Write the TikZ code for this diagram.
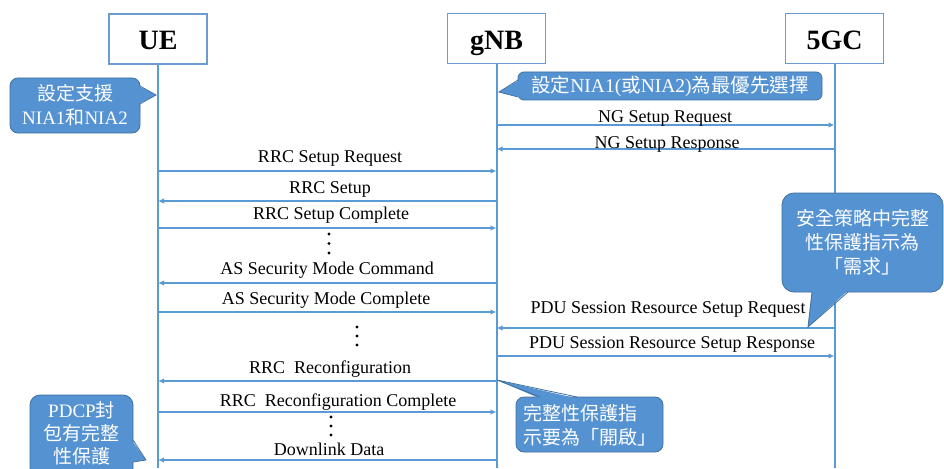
\documentclass[tikz,border=0pt]{standalone}
\usepackage{fontspec}
\setmainfont{Liberation Serif}
\newfontfamily\cjk{Noto Sans CJK TC}
\usetikzlibrary{arrows.meta}
\definecolor{lineblue}{RGB}{91,155,213}
\definecolor{boxblue}{RGB}{110,155,205}
\definecolor{callfill}{RGB}{84,146,210}
\definecolor{calledge}{RGB}{65,113,156}
\begin{document}
\begin{tikzpicture}[x=1pt,y=-1pt,
  hdr/.style={draw=boxblue,line width=1.3pt,fill=white,minimum width=98pt,
    minimum height=50pt,inner sep=0pt,text height=26pt,text depth=4pt,
    font=\fontsize{28}{30}\selectfont\bfseries},
  life/.style={lineblue,line width=2pt},
  msg/.style={lineblue,line width=2pt,-{Latex[length=6pt,width=5.5pt]}},
  lbl/.style={font=\fontsize{18}{20}\selectfont,inner sep=0pt,anchor=base},
  callout/.style={fill=callfill,draw=calledge,line width=0.8pt,rounded corners=8pt,
    inner sep=0pt,text=white,align=center,font=\fontsize{19}{24}\selectfont},
  ptrfill/.style={fill=callfill},
  ptredge/.style={draw=calledge,line width=0.8pt},
  vdot/.style={circle,fill=black,inner sep=0pt,minimum size=3.4pt}
]
\useasboundingbox (0,0) rectangle (944,468);
\fill[white] (0,0) rectangle (944,468);

% participants
\node[hdr] (ue)  at (158,39)   {UE};
\node[hdr] (gnb) at (496.5,38.5) {gNB};
\node[hdr] (cn)  at (834.5,38.5) {5GC};

% lifelines
\draw[life] (ue.south)  -- (ue.south  |- 0,468);
\draw[life] (gnb.south) -- (gnb.south |- 0,468);
\draw[life] (cn.south)  -- (cn.south  |- 0,468);

% message end points on the lifelines
\foreach \n/\y in {1/125,2/149,3/171,4/201,5/228,6/283,7/312,8/328,9/356,10/381,11/412,12/460}{
  \path (ue.south |- 0,\y) coordinate (ue\n)
        (gnb.south |- 0,\y) coordinate (gnb\n)
        (cn.south |- 0,\y) coordinate (cn\n);
}

% messages
\draw[msg] (gnb1) -- (cn1);
\node[lbl] (t1) at (665,122) {NG Setup Request};
\draw[msg] (cn2) -- (gnb2);
\node[lbl] (t2) at (667,148) {NG Setup Response};
\draw[msg] (ue3) -- (gnb3);
\node[lbl] (t3) at (330,162) {RRC Setup Request};
\draw[msg] (gnb4) -- (ue4);
\node[lbl] (t4) at (330,193) {RRC Setup};
\draw[msg] (ue5) -- (gnb5);
\node[lbl] (t5) at (331,219) {RRC Setup Complete};
\draw[msg] (gnb6) -- (ue6);
\node[lbl] (t6) at (327,274) {AS Security Mode Command};
\draw[msg] (ue7) -- (gnb7);
\node[lbl] (t7) at (326,304) {AS Security Mode Complete};
\draw[msg] (cn8) -- (gnb8);
\node[lbl] (t8) at (668,313) {PDU Session Resource Setup Request};
\draw[msg] (gnb9) -- (cn9);
\node[lbl] (t9) at (672,348) {PDU Session Resource Setup Response};
\draw[msg] (gnb10) -- (ue10);
\node[lbl] (t10) at (330,373) {RRC\ \ Reconfiguration};
\draw[msg] (ue11) -- (gnb11);
\node[lbl] (t11) at (338,406) {RRC\ \ Reconfiguration Complete};
\draw[msg] (gnb12) -- (ue12);
\node[lbl] (t12) at (329,455) {Downlink Data};

% vertical ellipses
\foreach \x/\y/\k in {329/234/a,329/243.5/b,329/253/c,357/327/d,357/336/e,357/345/f,331/417/g,331/426/h,331/435/i}
  \node[vdot] (dot\k) at (\x,\y) {};

% callout: UE supports NIA1 and NIA2
\node[callout,minimum width=130pt,minimum height=55pt] (c1) at (75,105.5)
  {{\cjk 設定支援}\\NIA1{\cjk 和}NIA2};
\coordinate (p1) at (156,95);
\fill[ptrfill] (138.5,86) -- (p1) -- (138.5,104) -- cycle;
\draw[ptredge] (140,86) -- (p1) -- (140,104);

% callout: gNB priority
\node[callout,rounded corners=6pt,minimum width=304pt,minimum height=28pt,
  font=\fontsize{19.5}{24}\selectfont] (c2) at (670,86)
  {{\cjk 設定}NIA1({\cjk 或}NIA2){\cjk 為最優先選擇}};
\coordinate (p2) at (499,92);
\fill[ptrfill] (519.5,80) -- (p2) -- (519.5,97) -- cycle;
\draw[ptredge] (518,80) -- (p2) -- (518,97);

% callout: security policy from 5GC
\node[callout,rounded corners=12pt,minimum width=161pt,minimum height=99pt] (c3) at (862.5,242.5)
  {{\cjk 安全策略中完整}\\{\cjk 性保護指示為}\\{\cjk 「需求」}};
\coordinate (p3) at (808,327);
\fill[ptrfill] (812,290.5) -- (p3) -- (848,290.5) -- cycle;
\draw[ptredge] (812,292) -- (p3) -- (848,292);

% callout: integrity protection on
\node[callout,minimum width=147pt,minimum height=55pt] (c4) at (589.5,424.5) {};
\node[text=white,align=left,inner sep=0pt,font=\fontsize{19}{24}\selectfont] (c4t) at (590,425.5)
  {{\cjk 完整性保護指}\\{\cjk 示要為「開啟」}};
\coordinate (p4) at (497,380);
\fill[ptrfill] (540,398.5) -- (p4) -- (577,398.5) -- cycle;
\draw[ptredge] (540,397) -- (p4) -- (577,397);

% callout: PDCP integrity
\node[callout,rounded corners=10pt,minimum width=103pt,minimum height=85pt] (c5) at (81.5,437.5) {};
\node[text=white,align=center,inner sep=0pt,font=\fontsize{19}{23}\selectfont] (c5t) at (81.5,433)
  {PDCP{\cjk 封}\\{\cjk 包有完整}\\{\cjk 性保護}};
\coordinate (p5) at (146,460);
\fill[ptrfill] (131.5,440) -- (p5) -- (131.5,462) -- cycle;
\draw[ptredge] (133,440) -- (p5) -- (133,462);
\end{tikzpicture}
\end{document}
